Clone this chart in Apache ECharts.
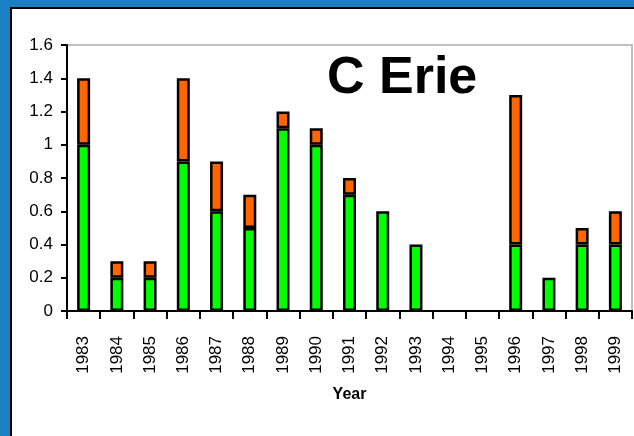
<!DOCTYPE html>
<html><head><meta charset="utf-8">
<script src="https://cdn.jsdelivr.net/npm/echarts@6/dist/echarts.min.js"></script>
<style>
html,body{margin:0;padding:0;width:634px;height:436px;overflow:hidden;background:#1b80c2;}
#panel{position:absolute;left:10px;top:7px;width:700px;height:500px;background:#fff;border:2px solid #000;}
#chart{position:absolute;left:0;top:0;width:634px;height:436px;}
</style></head>
<body><div id="panel"></div><div id="chart"></div>
<script>
const years = ['1983','1984','1985','1986','1987','1988','1989','1990','1991','1992','1993','1994','1995','1996','1997','1998','1999'];
const greenVals = [1.0,0.2,0.2,0.9,0.6,0.5,1.1,1.0,0.7,0.6,0.4,0,0,0.4,0.2,0.4,0.4];
const orangeVals = [0.4,0.1,0.1,0.5,0.3,0.2,0.1,0.1,0.1,0,0,0,0,0.9,0,0.1,0.2];
const yTicks = [0,0.2,0.4,0.6,0.8,1,1.2,1.4,1.6];
const font = 'Liberation Sans, Arial, sans-serif';
const chart = echarts.init(document.getElementById('chart'));
chart.setOption({
  animation:false,
  title:{text:'C Erie',left:322,top:48,textStyle:{fontFamily:font,fontSize:52,fontWeight:'bold',color:'#000'}},
  grid:{left:67,top:45,right:2,bottom:125,show:true,borderColor:'#c0c0c0',borderWidth:2,backgroundColor:'transparent'},
  xAxis:{type:'category',data:years,name:'Year',nameLocation:'middle',nameGap:76,
    nameTextStyle:{fontFamily:font,fontSize:16,fontWeight:'bold',color:'#000'},
    axisLine:{lineStyle:{color:'#000',width:2}},
    axisTick:{show:true,length:8,lineStyle:{color:'#000',width:2},alignWithLabel:false},
    axisLabel:{rotate:90,margin:25,fontFamily:font,fontSize:17,color:'#000'}},
  yAxis:{type:'value',min:0,max:1.6,interval:0.2,
    axisLine:{show:true,lineStyle:{color:'#000',width:2}},
    axisTick:{show:true,length:6,lineStyle:{color:'#000',width:2}},
    splitLine:{show:false},
    axisLabel:{margin:14,fontFamily:font,fontSize:17,color:'#000',
      formatter:v=>{const t=yTicks.find(x=>Math.abs(x-v)<1e-9);return String(t!==undefined?t:v);}}},
  series:[
    {type:'bar',stack:'a',data:greenVals.map(v=>v===0?null:v),barWidth:13,itemStyle:{color:'#00ff00',borderColor:'#000',borderWidth:2.5}},
    {type:'bar',stack:'a',data:orangeVals.map(v=>v===0?null:v),barWidth:13,itemStyle:{color:'#ff6600',borderColor:'#000',borderWidth:2.5}}
  ]
});
</script></body></html>
